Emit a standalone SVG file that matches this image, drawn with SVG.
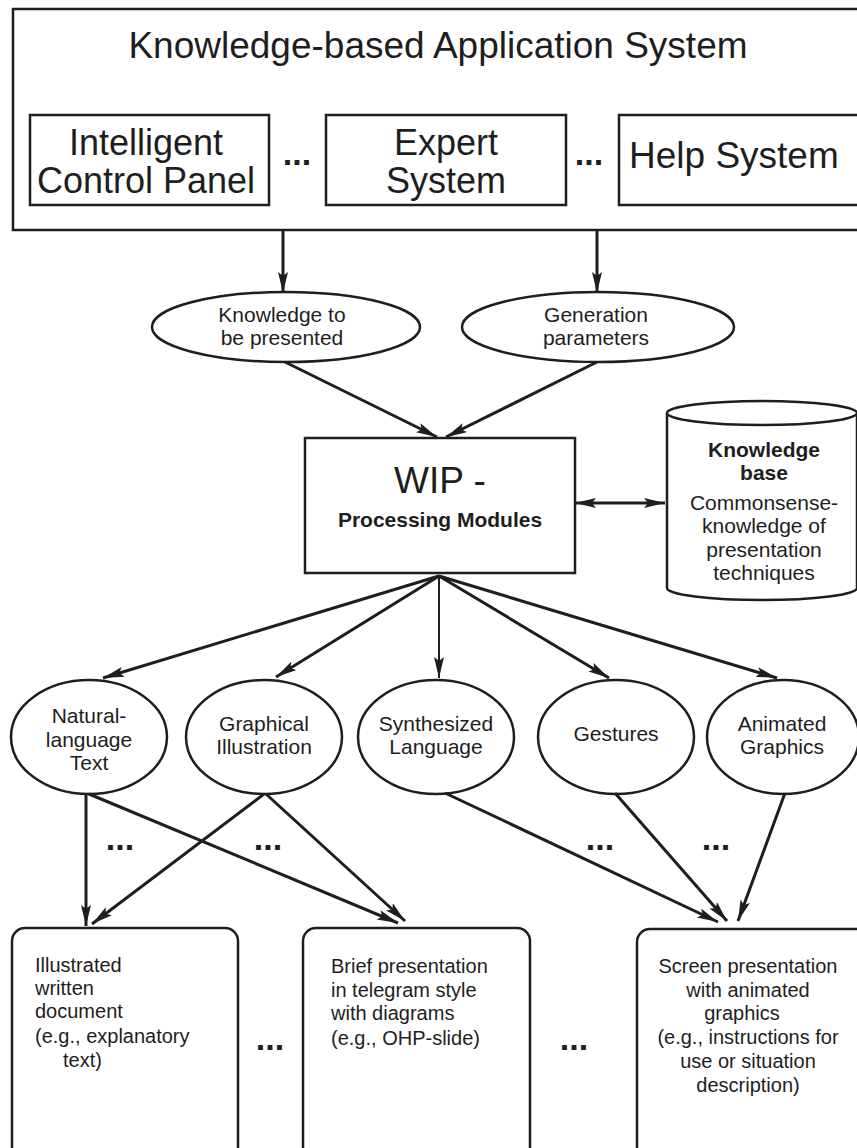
<svg xmlns="http://www.w3.org/2000/svg" width="857" height="1148" viewBox="0 0 857 1148">
<style>
  .box { fill: #fff; stroke: #1e1e1e; stroke-width: 2.5; }
  .t { font-family: "Liberation Sans", Arial, sans-serif; fill: #1e1e1e; text-anchor: middle; }
  .tl { font-family: "Liberation Sans", Arial, sans-serif; fill: #1e1e1e; text-anchor: start; }
  .b { font-weight: bold; }
  .dots { font-family: "Liberation Sans", Arial, sans-serif; font-weight: bold; font-size: 34px; fill: #1e1e1e; text-anchor: middle; }
  .conn path { fill: none; stroke: #1e1e1e; stroke-width: 3; marker-end: url(#ah); }
</style>
<defs>
  <marker id="ah" markerUnits="userSpaceOnUse" markerWidth="22" markerHeight="12" refX="21" refY="5" orient="auto-start-reverse">
    <path d="M0,0 L21,5 L0,10 L4,5 z" fill="#1e1e1e"/>
  </marker>
</defs>
<rect width="857" height="1148" fill="#fff"/>

<g id="kbas">
  <rect class="box" x="13" y="9" width="860" height="221"/>
  <text class="t" x="438" y="58" font-size="37">Knowledge-based Application System</text>
</g>
<g id="icp">
  <rect class="box" x="30" y="115" width="239" height="90"/>
  <text class="t" x="146" y="155" font-size="36">Intelligent</text>
  <text class="t" x="146" y="193" font-size="36">Control Panel</text>
</g>
<text class="dots" x="297" y="165">...</text>
<g id="expert">
  <rect class="box" x="326" y="115" width="240" height="90"/>
  <text class="t" x="446" y="155" font-size="36">Expert</text>
  <text class="t" x="446" y="193" font-size="36">System</text>
</g>
<text class="dots" x="589" y="165">...</text>
<g id="help">
  <rect class="box" x="619" y="115" width="260" height="90"/>
  <text class="tl" x="629" y="168" font-size="37">Help System</text>
</g>

<g id="knowledge-to-be-presented">
  <ellipse class="box" cx="286" cy="327" rx="134" ry="35"/>
  <text class="t" x="282" y="322" font-size="21">Knowledge to</text>
  <text class="t" x="282" y="345" font-size="21">be presented</text>
</g>
<g id="generation-parameters">
  <ellipse class="box" cx="598" cy="327" rx="136" ry="35"/>
  <text class="t" x="596" y="322" font-size="21">Generation</text>
  <text class="t" x="596" y="345" font-size="21">parameters</text>
</g>

<g id="wip">
  <rect class="box" x="305" y="438" width="270" height="135"/>
  <text class="t" x="440" y="493" font-size="37">WIP -</text>
  <text class="t b" x="440" y="527" font-size="21">Processing Modules</text>
</g>

<g id="knowledge-base">
  <path class="box" d="M667,413 L667,588 A95,12 0 0 0 857,588 L857,413"/>
  <ellipse class="box" cx="762" cy="413" rx="95" ry="12"/>
  <text class="t b" x="764" y="457" font-size="21">Knowledge</text>
  <text class="t b" x="764" y="480" font-size="21">base</text>
  <text class="t" x="764" y="510" font-size="21">Commonsense-</text>
  <text class="t" x="764" y="533" font-size="21">knowledge of</text>
  <text class="t" x="764" y="557" font-size="21">presentation</text>
  <text class="t" x="764" y="580" font-size="21">techniques</text>
</g>

<g id="natural-language-text">
  <ellipse class="box" cx="89" cy="737" rx="78" ry="57"/>
  <text class="t" x="89" y="723" font-size="21">Natural-</text>
  <text class="t" x="89" y="747" font-size="21">language</text>
  <text class="t" x="89" y="770" font-size="21">Text</text>
</g>
<g id="graphical-illustration">
  <ellipse class="box" cx="264" cy="737" rx="78" ry="57"/>
  <text class="t" x="264" y="731" font-size="21">Graphical</text>
  <text class="t" x="264" y="754" font-size="21">Illustration</text>
</g>
<g id="synthesized-language">
  <ellipse class="box" cx="436" cy="737" rx="78" ry="57"/>
  <text class="t" x="436" y="731" font-size="21">Synthesized</text>
  <text class="t" x="436" y="754" font-size="21">Language</text>
</g>
<g id="gestures">
  <ellipse class="box" cx="616" cy="737" rx="78" ry="57"/>
  <text class="t" x="616" y="741" font-size="21">Gestures</text>
</g>
<g id="animated-graphics">
  <ellipse class="box" cx="783" cy="737" rx="76" ry="57"/>
  <text class="t" x="782" y="731" font-size="21">Animated</text>
  <text class="t" x="782" y="754" font-size="21">Graphics</text>
</g>

<g id="dots-mid">
  <text class="dots" x="120" y="850">...</text>
  <text class="dots" x="268" y="850">...</text>
  <text class="dots" x="600" y="850">...</text>
  <text class="dots" x="716" y="850">...</text>
</g>

<g id="illustrated-document">
  <rect class="box" x="12" y="928" width="226" height="240" rx="13"/>
  <text class="tl" x="35" y="972" font-size="20">Illustrated</text>
  <text class="tl" x="35" y="995" font-size="20">written</text>
  <text class="tl" x="35" y="1018" font-size="20">document</text>
  <text class="tl" x="35" y="1043" font-size="20">(e.g., explanatory</text>
  <text class="tl" x="63" y="1067" font-size="20">text)</text>
</g>
<text class="dots" x="270" y="1050">...</text>
<g id="brief-presentation">
  <rect class="box" x="303" y="928" width="227" height="240" rx="13"/>
  <text class="tl" x="331" y="973" font-size="20">Brief presentation</text>
  <text class="tl" x="331" y="997" font-size="20">in telegram style</text>
  <text class="tl" x="331" y="1020" font-size="20">with diagrams</text>
  <text class="tl" x="331" y="1045" font-size="20">(e.g., OHP-slide)</text>
</g>
<text class="dots" x="574" y="1050">...</text>
<g id="screen-presentation">
  <rect class="box" x="637" y="929" width="240" height="240" rx="13"/>
  <text class="t" x="748" y="973" font-size="20">Screen presentation</text>
  <text class="t" x="748" y="997" font-size="20">with animated</text>
  <text class="t" x="742" y="1020" font-size="20">graphics</text>
  <text class="t" x="748" y="1044" font-size="20">(e.g., instructions for</text>
  <text class="t" x="748" y="1068" font-size="20">use or situation</text>
  <text class="t" x="748" y="1092" font-size="20">description)</text>
</g>

<g id="connectors" class="conn">
  <path d="M283,230 L283,293"/>
  <path d="M597,230 L597,293"/>
  <path d="M285,362 L437,437"/>
  <path d="M597,362 L446,437"/>
  <path d="M575,503 L665,503" style="marker-start:url(#ah)"/>
  <path d="M439,576 L103,678"/>
  <path d="M439,576 L276,677"/>
  <path d="M439,576 L439,678" style="stroke-width:2"/>
  <path d="M439,576 L609,678"/>
  <path d="M439,576 L777,678"/>
  <path d="M86,794 L86,926"/>
  <path d="M89,794 L398,923"/>
  <path d="M264,794 L92,924"/>
  <path d="M266,794 L405,921"/>
  <path d="M445,793 L718,922"/>
  <path d="M615,793 L727,921"/>
  <path d="M785,793 L738,921"/>
</g>
</svg>
